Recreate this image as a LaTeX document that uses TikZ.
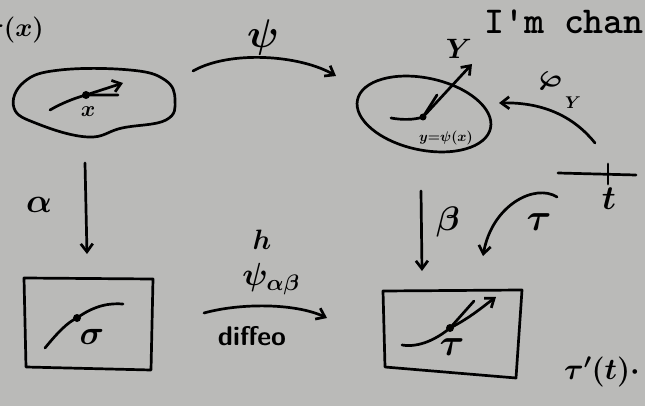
\RequirePackage{fix-cm}
\documentclass[tikz,border=0pt]{standalone}
\usepackage{fontspec}
\usetikzlibrary{arrows.meta}
\definecolor{board}{RGB}{186,186,184}
\tikzset{
  ink/.style={line width=2.7pt, black, line cap=round, line join=round},
  arr/.style={ink, -{Straight Barb[length=8pt,width=12pt,line width=2.7pt]}},
  lbl/.style={font=\fontsize{34}{36}\selectfont\boldmath, inner sep=0pt},
  mid/.style={font=\fontsize{26}{28}\selectfont\boldmath, inner sep=0pt},
  small/.style={font=\fontsize{14}{15}\selectfont\boldmath, inner sep=0pt},
  dotc/.style={circle, fill=black, inner sep=0pt, minimum size=8pt},
}
\begin{document}
\begin{tikzpicture}[x=1pt,y=-1pt]
\fill[board] (0,0) rectangle (645,406);
\useasboundingbox (0,0) rectangle (645,406);

% top-left partial label
\node[mid, anchor=east] (tx) at (44,30) {$\tau(x)$};

% left blob
\draw[ink] plot[smooth cycle, tension=0.7] coordinates {(14,108) (24,82) (60,70) (130,70) (165,80) (175,100) (166,120) (122,128) (88,137) (38,124)};
\node[dotc] (p) at (86,95) {};
\draw[ink] (50,110) .. controls (62,103) and (75,98) .. (p.center) -- (118,95);
\draw[arr] (p.center) -- (123,83);
\node[small, font=\fontsize{22}{22}\selectfont\boldmath] (xx) at (88,112) {$x$};

% right ellipse
\draw[ink, rotate around={-12:(424,114)}] (424,114) ellipse (68pt and 36pt);
\node[dotc, minimum size=7pt] (q) at (423,117) {};
\draw[ink] (391,118) .. controls (402,120) and (414,120) .. (q.center) -- (437,95);
\draw[arr] (q.center) -- (472,64);
\node[mid, font=\fontsize{28}{30}\selectfont\boldmath] (Y) at (459,49) {$Y$};
\node[small] (yeq) at (446,138) {$y{=}\psi(x)$};

% I'm chan...
\node[anchor=west, inner sep=0pt, font=\fontsize{38}{40}\selectfont\ttfamily\bfseries] (im) at (484,22) {I'm chan};

% psi arrow
\coordinate (psiA) at (193,71);
\coordinate (psiB) at (336,76);
\draw[arr] (psiA) .. controls (230,50) and (300,55) .. (psiB);
\node[lbl, font=\fontsize{40}{42}\selectfont\boldmath] (psi) at (263,38) {$\psi$};

% phi_Y arrow
\coordinate (phA) at (595,143);
\coordinate (phB) at (499,103);
\draw[arr] (phA) .. controls (575,118) and (545,102) .. (phB);
\node[lbl, font=\fontsize{30}{32}\selectfont\boldmath, rotate=-25] (phi) at (549,83) {$\varphi$};
\node[small, font=\fontsize{17}{17}\selectfont\boldmath] (phiY) at (573,103) {$Y$};

% t axis
\coordinate (tA) at (558,173);
\coordinate (tB) at (636,175);
\draw[ink] (tA) -- (tB);
\coordinate (tk1) at (608,164);
\coordinate (tk2) at (608,184);
\draw[ink] (tk1) -- (tk2);
\node[lbl] (t) at (609,199) {$t$};

% tau arrow
\coordinate (tauA) at (557,197);
\coordinate (tauB) at (483,256);
\draw[arr] (tauA) .. controls (535,183) and (492,205) .. (tauB);
\node[lbl, font=\fontsize{38}{40}\selectfont\boldmath] (tau1) at (539,222) {$\tau$};

% beta arrow
\coordinate (bA) at (421,191);
\coordinate (bB) at (422,271);
\draw[arr] (bA) -- (bB);
\node[lbl] (beta) at (448,222) {$\beta$};

% alpha arrow
\coordinate (aA) at (85,163);
\coordinate (aB) at (87,254);
\draw[arr] (aA) -- (aB);
\node[lbl] (alpha) at (39,205) {$\alpha$};

% left box
\draw[ink] (24,278) -- (153,279) -- (151,370) -- (26,367) -- cycle;
\node[dotc] (s) at (77,318) {};
\draw[ink] (45,348) .. controls (58,332) and (68,322) .. (s.center) .. controls (95,305) and (110,303) .. (123,304);
\node[lbl] (sigma) at (92,337) {$\sigma$};

% h / psi_ab / diffeo
\coordinate (hA) at (204,313);
\coordinate (hB) at (327,318);
\draw[arr] (hA) .. controls (240,303) and (295,303) .. (hB);
\node[lbl, font=\fontsize{28}{30}\selectfont\boldmath] (h) at (262,240) {$h$};
\node[lbl, font=\fontsize{32}{34}\selectfont\boldmath] (psiab) at (271,279) {$\psi_{\alpha\beta}$};
\node[inner sep=0pt, font=\fontsize{27}{28}\selectfont\sffamily\bfseries] (diffeo) at (252,336) {diffeo};

% right box
\draw[ink] (383,291) -- (522,290) -- (516,378) -- (385,367) -- cycle;
\node[dotc] (r) at (450,328) {};
\draw[ink] (402,345) .. controls (420,348) and (438,338) .. (r.center) -- (474,301);
\draw[arr] (r.center) .. controls (470,318) and (485,305) .. (496,297);
\node[lbl, font=\fontsize{38}{40}\selectfont\boldmath] (tau2) at (452,347) {$\tau$};

% tau'(t).
\node[lbl, font=\fontsize{30}{32}\selectfont\boldmath, anchor=west] (taup) at (564,372) {$\tau'(t)\cdot$};
\end{tikzpicture}
\end{document}
